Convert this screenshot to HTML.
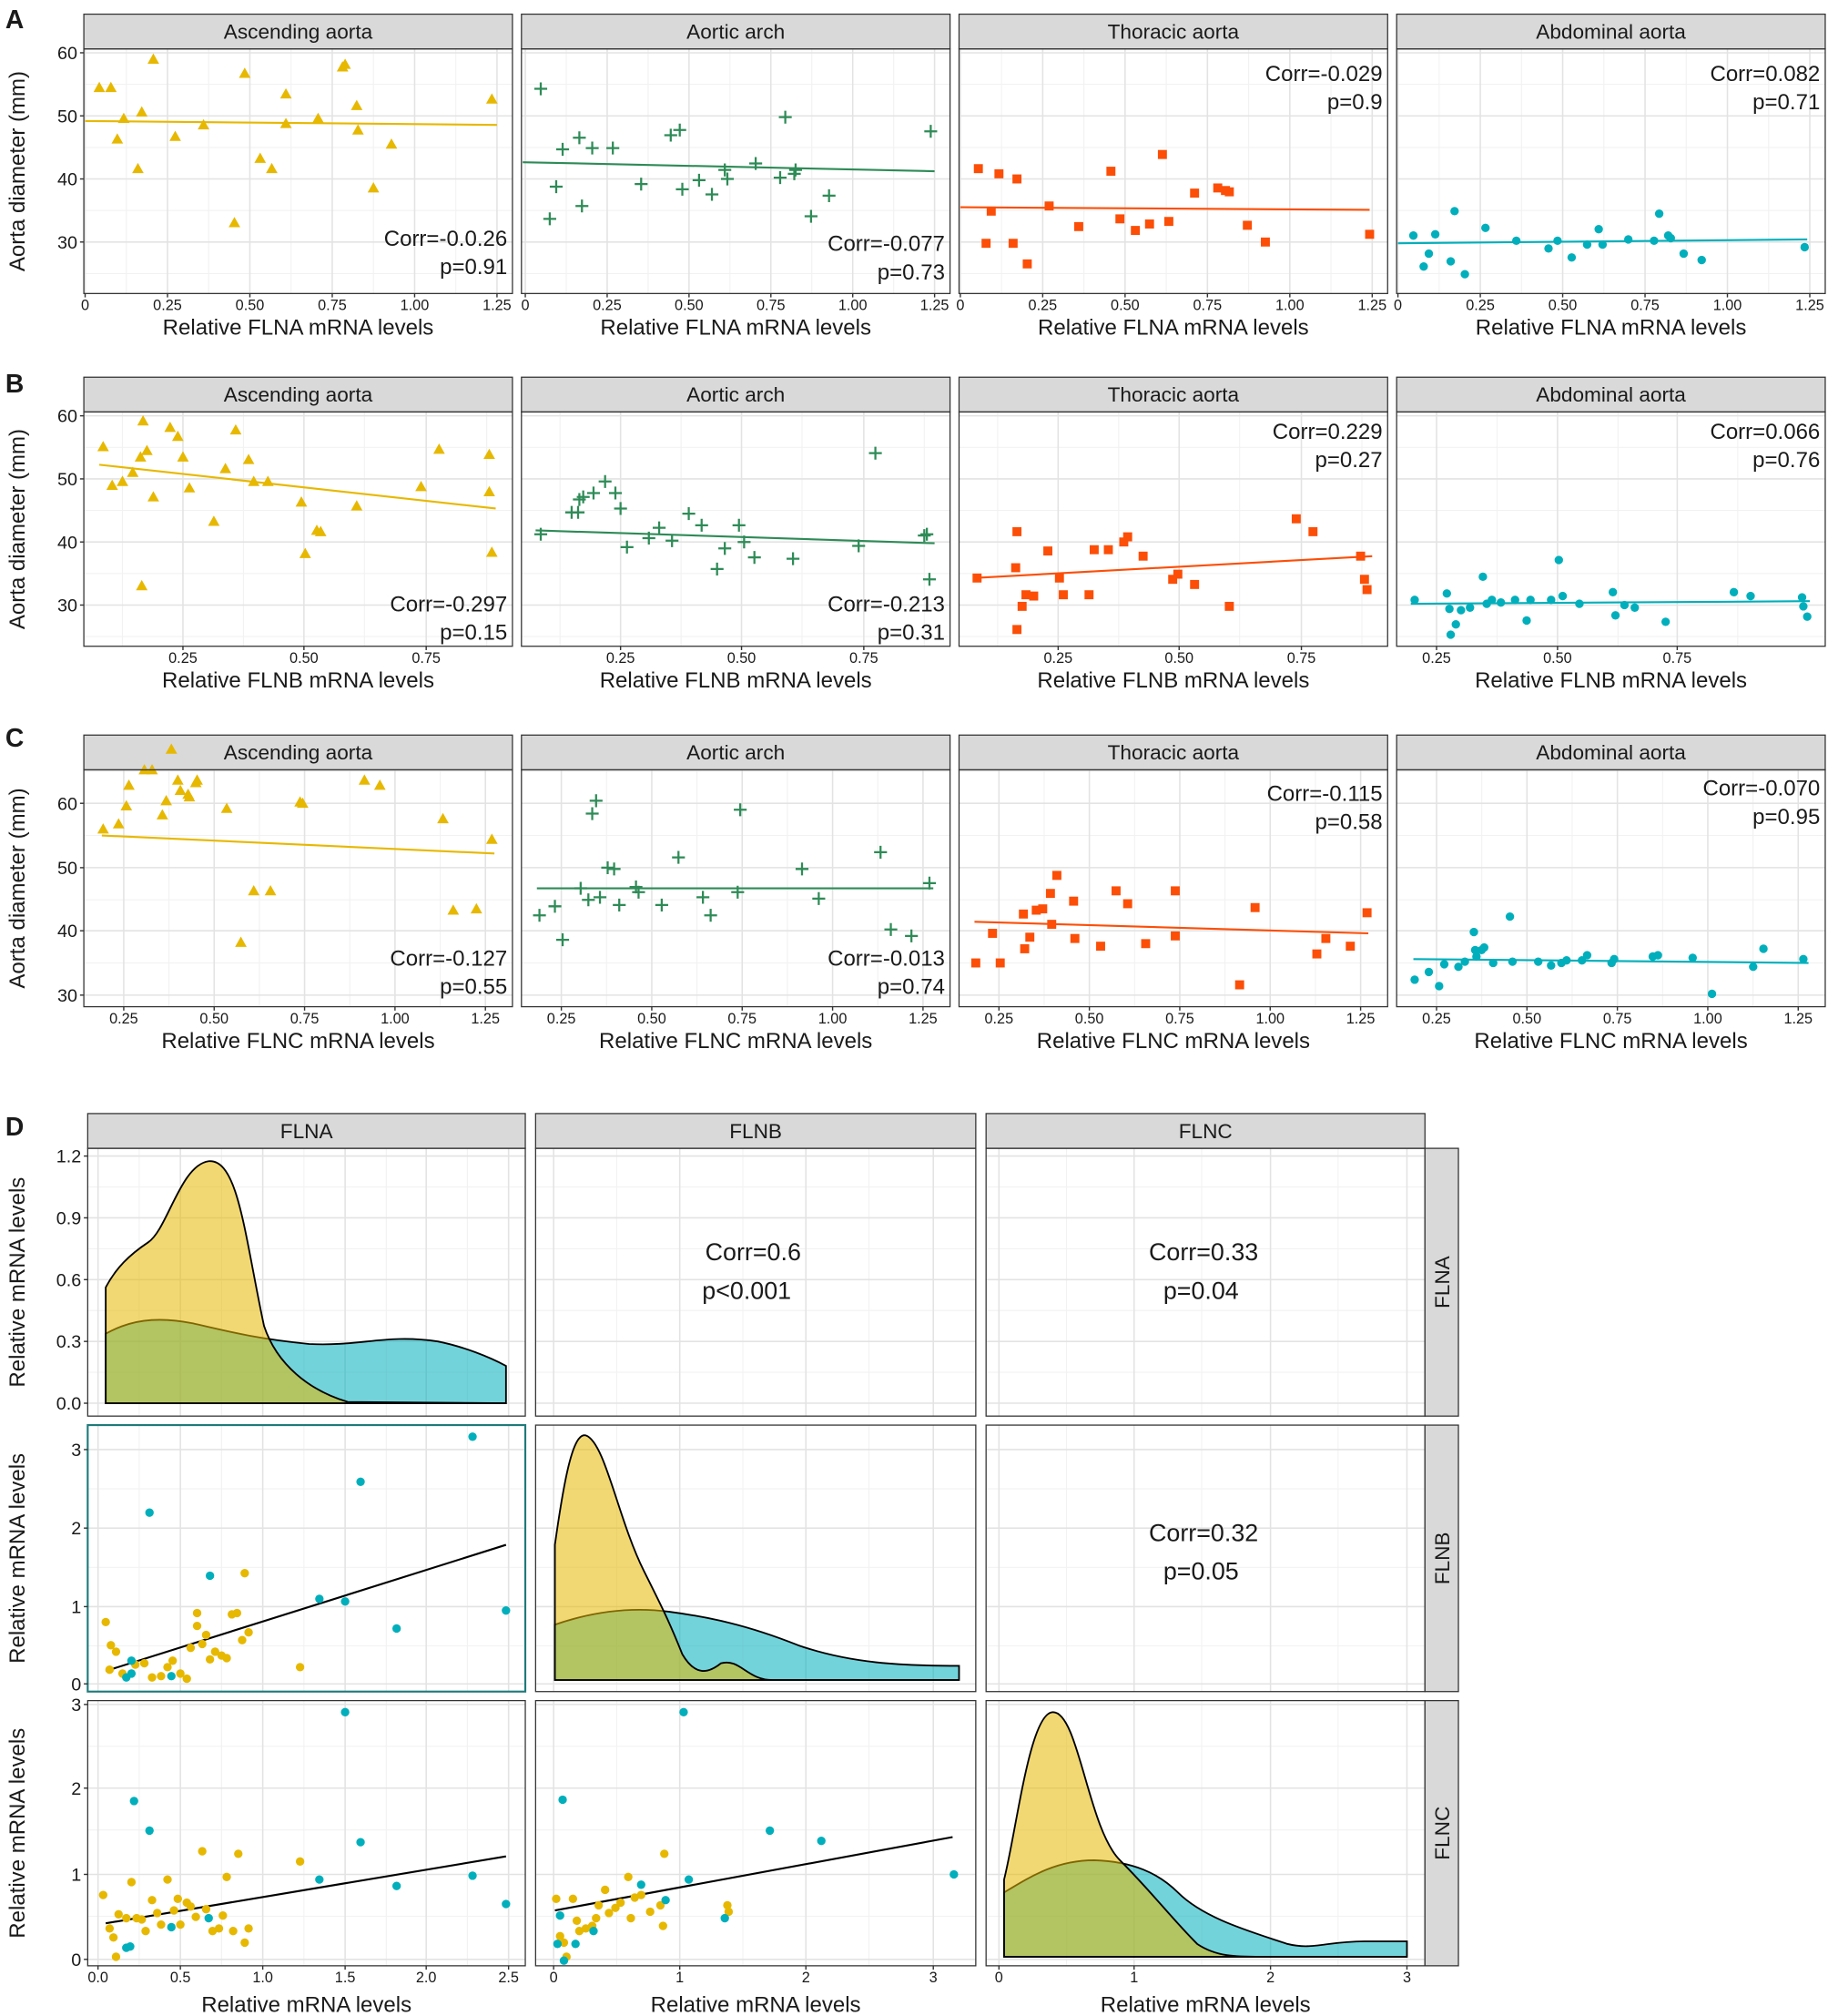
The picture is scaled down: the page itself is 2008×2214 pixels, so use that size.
<!DOCTYPE html>
<html><head><meta charset="utf-8">
<style>html,body{margin:0;padding:0;background:#fff}svg{display:block}text{font-family:"Liberation Sans",Arial,sans-serif}</style>
</head><body>
<svg id="s" width="2008" height="2214" viewBox="0 0 1420 1566" xmlns="http://www.w3.org/2000/svg"></svg>
<script>
const S=document.getElementById('s');let h='';
const Y='#E7B800',G='#2E8B57',R='#FC4E07',T='#00AFBB';
function t(x,y,s,sz,anc,extra){h+=`<text x="${x}" y="${y}" font-size="${sz}" text-anchor="${anc||'start'}" fill="#1a1a1a" ${extra||''}>${s}</text>`;}
function panel(x0,y0,x1,y1,xt,yt,strip){
 h+=`<rect x="${x0}" y="${y0}" width="${x1-x0}" height="${y1-y0}" fill="#fff"/>`;
 const xs=xt.map(a=>a[0]),ys=yt.map(a=>a[0]);
 function minors(arr,lo,hi){let m=[];if(arr.length>1){let d=arr[1]-arr[0];m.push(arr[0]-d/2);for(let i=0;i<arr.length;i++)m.push(arr[i]+d/2);}return m.filter(v=>v>lo&&v<hi);}
 minors(xs,x0,x1).forEach(v=>h+=`<line x1="${v}" y1="${y0}" x2="${v}" y2="${y1}" stroke="#f2f2f2" stroke-width="0.8"/>`);
 minors(ys,y0,y1).forEach(v=>h+=`<line x1="${x0}" y1="${v}" x2="${x1}" y2="${v}" stroke="#f2f2f2" stroke-width="0.8"/>`);
 xs.forEach(v=>h+=`<line x1="${v}" y1="${y0}" x2="${v}" y2="${y1}" stroke="#e3e3e3" stroke-width="1.1"/>`);
 ys.forEach(v=>h+=`<line x1="${x0}" y1="${v}" x2="${x1}" y2="${v}" stroke="#e3e3e3" stroke-width="1.1"/>`);
 if(strip){h+=`<rect x="${x0}" y="${y0-27}" width="${x1-x0}" height="27" fill="#d9d9d9" stroke="#333" stroke-width="0.9"/>`;t((x0+x1)/2,y0-8,strip,16,'middle');}
}
function border(x0,y0,x1,y1,c){h+=`<rect x="${x0}" y="${y0}" width="${x1-x0}" height="${y1-y0}" fill="none" stroke="${c||'#333'}" stroke-width="${c?1.5:0.9}"/>`;}
function xlabels(xt,y){xt.forEach(a=>{h+=`<line x1="${a[0]}" y1="${y}" x2="${a[0]}" y2="${y+3}" stroke="#333"/>`;t(a[0],y+13,a[1],11.5,'middle');});}
function ylabels(yt,x){yt.forEach(a=>{h+=`<line x1="${x-3}" y1="${a[0]}" x2="${x}" y2="${a[0]}" stroke="#333"/>`;t(x-5,a[0]+5,a[1],14,'end');});}
function pts(p,c,shape){p.forEach(([x,y])=>{
 if(shape=='tri')h+=`<polygon points="${x},${y-4.5} ${x-4.5},${y+3.5} ${x+4.5},${y+3.5}" fill="${c}"/>`;
 else if(shape=='plus')h+=`<path d="M${x-5} ${y}H${x+5}M${x} ${y-5}V${y+5}" stroke="${c}" stroke-width="1.6"/>`;
 else if(shape=='sq')h+=`<rect x="${x-3.5}" y="${y-3.5}" width="7" height="7" fill="${c}"/>`;
 else h+=`<circle cx="${x}" cy="${y}" r="3.3" fill="${c}"/>`;});}
function line(a,b,c,w){h+=`<line x1="${a[0]}" y1="${a[1]}" x2="${b[0]}" y2="${b[1]}" stroke="${c}" stroke-width="${w||1.5}"/>`;}
const cols=[[65,398],[405,738],[745,1078],[1085,1418]];
const names=['Ascending aorta','Aortic arch','Thoracic aorta','Abdominal aorta'];
const colors=[Y,G,R,T],shapes=['tri','plus','sq','dot'];
function row(y0,y1,yv,xtk,gene,data,lines,corr,letter,ly){
 t(4,ly,letter,20,'start','font-weight="bold"');
 for(let i=0;i<4;i++){const [x0,x1]=cols[i];
  const xt=xtk[i].map(([v,l])=>[v,l]);const yt=yv.map(([v,l])=>[v,l]);
  panel(x0,y0,x1,y1,xt,yt,names[i]);
  line(lines[i][0],lines[i][1],colors[i]);
  pts(data[i],colors[i],shapes[i]);
  const c=corr[i];t(x1-4,c[2],c[0],17,'end');t(x1-4,c[2]+22,c[1],17,'end');
  border(x0,y0,x1,y1);xlabels(xt,y1);t((x0+x1)/2,y1+32,'Relative '+gene+' mRNA levels',17,'middle');}
 ylabels(yv,cols[0][0]);
 t(0,0,'Aorta diameter (mm)',17,'middle',`transform="translate(19,${(y0+y1)/2}) rotate(-90)"`);
}
function tk(lo,hi,arr){return arr.map(v=>[lo+(hi-lo)*v[0],v[1]]);}
const tA=[[0,'0'],[.2,'0.25'],[.4,'0.50'],[.6,'0.75'],[.8,'1.00'],[1,'1.25']];
row(38,228,[[41,'60'],[90,'50'],[139,'40'],[188,'30']],
 [tk(66,386,tA),tk(408,726,tA),tk(746,1066,tA),tk(1086,1406,tA)],'FLNA',
 [[[77,68],[86,68],[96,92],[91,108],[107,131],[119,46],[110,87],[136,106],[158,97],[182,173],[190,57],[202,123],[211,131],[222,73],[222,96],[247,92],[266,52],[268,50],[277,82],[278,101],[290,146],[304,112],[382,77]],
  [[420,69],[427,170],[432,145],[437,116],[450,107],[452,160],[460,115],[476,115],[498,143],[521,105],[528,101],[530,147],[543,140],[553,151],[563,132],[565,139],[587,127],[606,138],[610,91],[618,132],[617,135],[630,168],[644,152],[723,102]],
  [[760,131],[766,189],[770,164],[776,135],[787,189],[790,139],[798,205],[815,160],[838,176],[863,133],[870,170],[882,179],[893,174],[903,120],[908,172],[928,150],[946,146],[952,148],[955,149],[969,175],[983,188],[1064,182]],
  [[1098,183],[1106,207],[1110,197],[1115,182],[1127,203],[1130,164],[1138,213],[1154,177],[1178,187],[1203,193],[1210,187],[1221,200],[1233,190],[1242,178],[1245,190],[1265,186],[1285,187],[1289,166],[1296,183],[1298,185],[1308,197],[1322,202],[1402,192]]],
 [[[66,94],[386,97]],[[406,126],[726,133]],[[746,161],[1064,163]],[[1086,189],[1404,186]]],
 [['Corr=-0.0.26','p=0.91',191],['Corr=-0.077','p=0.73',195],['Corr=-0.029','p=0.9',63],['Corr=0.082','p=0.71',63]],'A',22);
const tB=[[142,'0.25'],[236,'0.50'],[331,'0.75']];
function sh(a,d){return a.map(v=>[v[0]+d,v[1]]);}
row(320,502,[[323,'60'],[372,'50'],[421,'40'],[470,'30']],
 [tB,sh(tB,340),sh(tB,680),[[1116,'0.25'],[1210,'0.50'],[1303,'0.75']]],'FLNB',
 [[[80,347],[87,377],[95,374],[103,367],[109,355],[111,327],[114,350],[110,455],[119,386],[132,332],[138,339],[142,355],[147,379],[166,405],[175,364],[183,334],[193,357],[197,374],[208,374],[234,390],[237,430],[246,412],[249,413],[277,393],[327,378],[341,349],[380,353],[380,382],[382,429]],
  [[420,415],[444,398],[449,398],[450,388],[453,386],[461,383],[470,374],[478,383],[482,395],[487,425],[504,418],[512,410],[522,420],[535,399],[545,408],[557,442],[563,426],[574,408],[578,421],[586,433],[616,434],[667,424],[680,352],[718,416],[720,415],[722,450]],
  [[759,449],[789,441],[790,413],[794,471],[797,462],[790,489],[803,463],[814,428],[823,449],[826,462],[846,462],[850,427],[861,427],[873,421],[876,417],[888,432],[911,450],[915,446],[928,454],[955,471],[1007,403],[1020,413],[1057,432],[1060,450],[1062,458]],
  [[1099,466],[1124,461],[1126,473],[1127,493],[1131,485],[1135,474],[1142,472],[1152,448],[1155,469],[1159,466],[1166,468],[1177,466],[1186,482],[1189,466],[1205,466],[1211,435],[1214,463],[1227,469],[1253,460],[1255,478],[1262,470],[1270,472],[1294,483],[1347,460],[1360,463],[1400,464],[1401,471],[1404,479]]],
 [[[77,361],[385,395]],[[416,412],[726,422]],[[756,449],[1066,432]],[[1096,469],[1406,467]]],
 [['Corr=-0.297','p=0.15',475],['Corr=-0.213','p=0.31',475],['Corr=0.229','p=0.27',341],['Corr=0.066','p=0.76',341]],'B',305);
const tC=[[.25,'0.25'],[.5,'0.50'],[.75,'0.75'],[1,'1.00'],[1.25,'1.25']];
function tc(o){return tC.map(v=>[o+281*(v[0]-.25),v[1]]);}
row(598,782,[[624,'60'],[674,'50'],[723,'40'],[773,'30']],
 [tc(96),tc(436),tc(776),tc(1116)],'FLNC',
 [[[80,644],[92,640],[98,626],[100,610],[112,598],[118,598],[126,633],[129,622],[133,582],[138,606],[140,614],[146,617],[147,619],[152,608],[153,606],[176,628],[187,732],[197,692],[210,692],[233,623],[235,624],[283,606],[295,610],[344,636],[352,707],[370,706],[382,652]],
  [[419,711],[431,704],[437,730],[451,690],[457,699],[460,632],[463,622],[466,697],[472,674],[477,675],[481,703],[494,689],[496,693],[514,703],[527,666],[546,697],[552,711],[573,693],[575,629],[623,675],[636,698],[684,662],[692,722],[708,727],[722,686]],
  [[758,748],[771,725],[777,748],[795,710],[796,737],[800,728],[805,707],[810,706],[816,694],[817,718],[821,680],[834,700],[835,729],[855,735],[867,692],[876,702],[890,733],[913,692],[913,727],[963,765],[975,705],[1023,741],[1030,729],[1049,735],[1062,709]],
  [[1099,761],[1110,755],[1118,766],[1122,749],[1133,751],[1138,747],[1145,724],[1146,738],[1147,743],[1151,738],[1153,736],[1160,748],[1173,712],[1175,747],[1195,747],[1205,750],[1213,748],[1217,746],[1229,746],[1233,742],[1252,748],[1254,745],[1284,743],[1288,742],[1315,744],[1330,772],[1362,751],[1370,737],[1401,745]]],
 [[[79,649],[384,663]],[[417,690],[725,690]],[[757,716],[1063,725]],[[1098,745],[1405,748]]],
 [['Corr=-0.127','p=0.55',750],['Corr=-0.013','p=0.74',750],['Corr=-0.115','p=0.58',622],['Corr=-0.070','p=0.95',618]],'C',580);
t(4,882,'D',20,'start','font-weight="bold"');
const dc=[[68,408],[416,758],[766,1107]],dr=[[892,1100],[1107,1314],[1321,1527]];
const gx=[[76,140,204,268,331,395],[430,528,626,725],[776,881,987,1093]];
const gxl=[['0.0','0.5','1.0','1.5','2.0','2.5'],['0','1','2','3'],['0','1','2','3']];
const gy=[[898,946,994,1042,1090],[1126,1187,1248,1308],[1324,1389,1456,1522]];
const gyl=[['1.2','0.9','0.6','0.3','0.0'],['3','2','1','0'],['3','2','1','0']];
const gn=['FLNA','FLNB','FLNC'];
for(let r=0;r<3;r++)for(let c=0;c<3;c++){
 panel(dc[c][0],dr[r][0],dc[c][1],dr[r][1],gx[c].map(v=>[v]),gy[r].map(v=>[v]),r==0?gn[c]:null);}
function dens(yel,teal){
 h+=`<path d="${teal}" fill="rgba(0,175,187,0.55)" stroke="#000" stroke-width="1.3"/>`;
 h+=`<path d="${yel}" fill="rgba(231,184,0,0.55)" stroke="#000" stroke-width="1.3"/>`;}
dens('M82 1090 L82 1000 C90 985 100 975 115 965 C130 955 140 905 162 902 C185 900 190 960 205 1030 C215 1060 240 1080 270 1089 L393 1090 Z',
 'M82 1090 L82 1036 C100 1026 120 1022 150 1028 C180 1035 200 1040 240 1044 C280 1046 300 1036 340 1042 C360 1046 380 1054 393 1061 L393 1090 Z');
dens('M431 1305 L431 1200 C438 1150 445 1112 455 1115 C470 1120 480 1180 500 1220 C515 1250 520 1260 530 1285 C540 1302 550 1300 560 1292 C575 1288 580 1305 600 1305 L745 1305 Z',
 'M431 1305 L431 1262 C460 1252 490 1248 520 1252 C550 1256 580 1262 620 1278 C660 1292 700 1294 745 1294 L745 1305 Z');
dens('M780 1520 L780 1460 C790 1420 800 1330 818 1330 C838 1330 845 1420 870 1445 C895 1470 910 1490 930 1510 C945 1520 960 1520 980 1520 L1093 1520 Z',
 'M780 1520 L780 1470 C800 1458 820 1445 850 1445 C880 1446 900 1455 915 1470 C935 1490 970 1500 1000 1510 C1020 1515 1030 1508 1060 1508 L1093 1508 L1093 1520 Z');
line([82,1298],[393,1200],'#000');line([82,1494],[393,1442],'#000');line([431,1484],[740,1427],'#000');
pts([[82,1260],[86,1278],[90,1283],[85,1297],[95,1300],[105,1293],[112,1292],[118,1303],[125,1302],[130,1295],[134,1290],[140,1300],[145,1304],[148,1280],[153,1253],[153,1263],[157,1277],[160,1270],[163,1289],[167,1283],[172,1286],[176,1288],[180,1254],[184,1253],[188,1274],[190,1222],[193,1268],[233,1295]],Y);
pts([[98,1303],[102,1300],[102,1290],[116,1175],[133,1302],[163,1224],[248,1242],[268,1244],[280,1151],[308,1265],[367,1116],[393,1251]],T);
pts([[80,1472],[85,1498],[88,1505],[90,1520],[92,1487],[98,1490],[102,1462],[106,1490],[110,1491],[113,1500],[118,1476],[122,1486],[125,1495],[130,1460],[135,1484],[138,1475],[140,1495],[145,1478],[148,1481],[152,1489],[157,1438],[160,1483],[165,1500],[170,1498],[173,1488],[176,1458],[181,1500],[185,1440],[190,1509],[193,1498],[233,1446]],Y);
pts([[98,1513],[101,1512],[104,1399],[116,1422],[133,1497],[162,1490],[248,1460],[268,1330],[280,1431],[308,1465],[367,1457],[393,1479]],T);
pts([[432,1475],[435,1504],[438,1509],[440,1520],[445,1475],[448,1492],[450,1500],[455,1498],[460,1496],[463,1490],[465,1480],[470,1468],[473,1486],[478,1482],[482,1478],[488,1458],[490,1490],[493,1474],[498,1472],[505,1485],[513,1480],[515,1496],[516,1440],[565,1480],[566,1485]],Y);
pts([[433,1510],[435,1488],[437,1398],[438,1523],[447,1510],[461,1500],[498,1464],[517,1476],[531,1330],[535,1460],[563,1490],[598,1422],[638,1430],[741,1456]],T);
for(let r=0;r<3;r++)for(let c=0;c<3;c++)border(dc[c][0],dr[r][0],dc[c][1],dr[r][1],(r==1&&c==0)?'#1f7a7a':null);
t(585,979,'Corr=0.6',19,'middle');t(580,1009,'p&lt;0.001',19,'middle');
t(935,979,'Corr=0.33',19,'middle');t(933,1009,'p=0.04',19,'middle');
t(935,1197,'Corr=0.32',19,'middle');t(933,1227,'p=0.05',19,'middle');
for(let r=0;r<3;r++){
 h+=`<rect x="1107" y="${dr[r][0]}" width="26" height="${dr[r][1]-dr[r][0]}" fill="#d9d9d9" stroke="#333" stroke-width="0.9"/>`;
 t(0,0,gn[r],16,'middle',`transform="translate(1126,${(dr[r][0]+dr[r][1])/2}) rotate(-90)"`);
 ylabels(gy[r].map((v,i)=>[v,gyl[r][i]]),68);
 t(0,0,'Relative mRNA levels',17,'middle',`transform="translate(19,${(dr[r][0]+dr[r][1])/2}) rotate(-90)"`);
}
for(let c=0;c<3;c++){xlabels(gx[c].map((v,i)=>[v,gxl[c][i]]),1527);t((dc[c][0]+dc[c][1])/2,1563,'Relative mRNA levels',17,'middle');}
S.innerHTML=h;
</script>
</body></html>
